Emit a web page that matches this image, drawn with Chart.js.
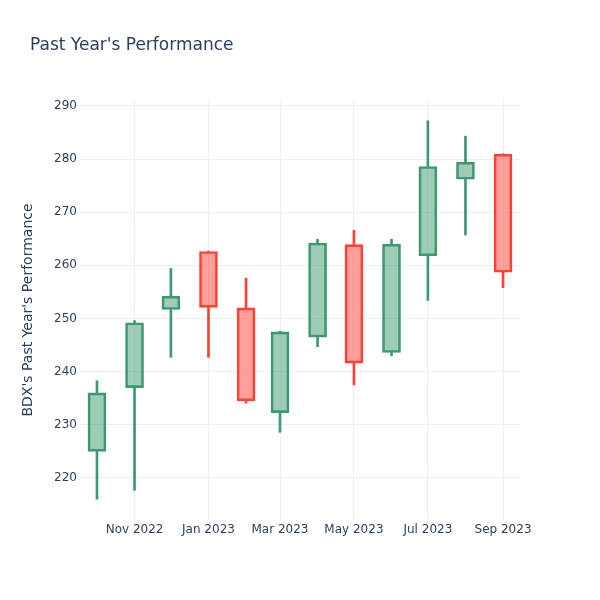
<!DOCTYPE html>
<html>
<head>
<meta charset="utf-8">
<script src="https://cdn.jsdelivr.net/npm/chart.js@4.4.0/dist/chart.umd.min.js"></script>
<style>
  body { margin: 0; background: #fff; }
  #wrap { width: 600px; height: 600px; }
</style>
</head>
<body>
<div id="wrap"><canvas id="myChart"></canvas></div>
<script>
// Monthly candles
const months = ['2022-10-01', '2022-11-01', '2022-12-01', '2023-01-01', '2023-02-01', '2023-03-01',
                '2023-04-01', '2023-05-01', '2023-06-01', '2023-07-01', '2023-08-01', '2023-09-01'];
const openVals  = [225.0, 237.0, 251.7, 262.6, 252.0, 232.3, 246.5, 263.9, 243.6, 261.8, 276.2, 280.9];
const closeVals = [236.0, 249.2, 254.2, 252.1, 234.5, 247.5, 264.2, 241.6, 264.0, 278.6, 279.4, 258.7];
const highVals  = [238.3, 249.6, 259.4, 262.7, 257.6, 247.6, 264.9, 266.6, 264.9, 287.2, 284.3, 281.0];
const lowVals   = [216.0, 217.7, 242.7, 242.7, 234.1, 228.6, 244.7, 237.5, 243.0, 253.4, 265.7, 255.8];

const xTickDates  = ['2022-11-01', '2023-01-01', '2023-03-01', '2023-05-01', '2023-07-01', '2023-09-01'];
const xTickLabels = ['Nov 2022', 'Jan 2023', 'Mar 2023', 'May 2023', 'Jul 2023', 'Sep 2023'];
const yTicks = [220, 230, 240, 250, 260, 270, 280, 290];

const UP = '#3D9970', DOWN = '#FF4136';
const UP_FILL = 'rgba(61,153,112,0.5)', DOWN_FILL = 'rgba(255,65,54,0.5)';
const TEXT = '#2a3f5f', GRID = '#EBF0F8';

Chart.defaults.font.family = '"DejaVu Sans", sans-serif';

function toDay(s) {
    const p = s.split('-');
    return Date.UTC(+p[0], +p[1] - 1, +p[2]) / 86400000;
}

const xs = months.map(toDay);
const xTickVals = xTickDates.map(toDay);
const isUp = openVals.map((o, i) => closeVals[i] >= o);
const lineColors = isUp.map(u => u ? UP : DOWN);
const fillColors = isUp.map(u => u ? UP_FILL : DOWN_FILL);

const bodies = xs.map((x, i) => ({ x: x, y: [openVals[i], closeVals[i]] }));
const upperWicks = xs.map((x, i) => ({ x: x, y: [Math.max(openVals[i], closeVals[i]), highVals[i]] }));
const lowerWicks = xs.map((x, i) => ({ x: x, y: [lowVals[i], Math.min(openVals[i], closeVals[i])] }));

// title drawn at a fixed spot, like the plotly layout
const titlePlugin = {
    id: 'titleText',
    afterDraw(chart) {
        const c = chart.ctx;
        c.save();
        c.font = '17px "DejaVu Sans", sans-serif';
        c.fillStyle = TEXT;
        c.textBaseline = 'middle';
        c.textAlign = 'left';
        c.fillText("Past Year's Performance", 30, 46);
        c.restore();
    }
};

const ctx = document.getElementById('myChart').getContext('2d');
const myChart = new Chart(ctx, {
    type: 'bar',
    data: {
        datasets: [
            {
                label: 'low wick',
                data: lowerWicks,
                backgroundColor: lineColors,
                borderWidth: 0,
                barThickness: 2,
                grouped: false,
                order: 2
            },
            {
                label: 'high wick',
                data: upperWicks,
                backgroundColor: lineColors,
                borderWidth: 0,
                barThickness: 2,
                grouped: false,
                order: 2
            },
            {
                label: 'body',
                data: bodies,
                backgroundColor: fillColors,
                borderColor: lineColors,
                borderWidth: 2,
                borderSkipped: false,
                barThickness: 18,
                grouped: false,
                order: 1
            }
        ]
    },
    options: {
        responsive: true,
        maintainAspectRatio: false,
        animation: false,
        layout: { padding: { left: 16, right: 80, top: 100, bottom: 0 } },
        plugins: {
            legend: { display: false },
            tooltip: { enabled: false },
            title: { display: false }
        },
        scales: {
            x: {
                type: 'linear',
                offset: false,
                min: xs[0] - 14,
                max: xs[xs.length - 1] + 14,
                afterBuildTicks: s => { s.ticks = xTickVals.map(v => ({ value: v })); },
                afterFit: s => { s.height = 80; },
                ticks: {
                    callback: v => xTickLabels[xTickVals.indexOf(v)],
                    color: TEXT,
                    font: { size: 12 },
                    padding: 3,
                    maxRotation: 0,
                    autoSkip: false
                },
                grid: { color: GRID, drawTicks: false, offset: false },
                border: { display: false }
            },
            y: {
                min: 212.1,
                max: 291.1,
                afterBuildTicks: s => { s.ticks = yTicks.map(v => ({ value: v })); },
                afterFit: s => { s.width = 64; },
                ticks: { color: TEXT, font: { size: 12 }, padding: 3 },
                grid: { color: GRID, drawTicks: false },
                border: { display: false },
                title: {
                    display: true,
                    text: "BDX's Past Year's Performance",
                    color: TEXT,
                    font: { size: 14 },
                    padding: 4
                }
            }
        }
    },
    plugins: [titlePlugin]
});
</script>
</body>
</html>
